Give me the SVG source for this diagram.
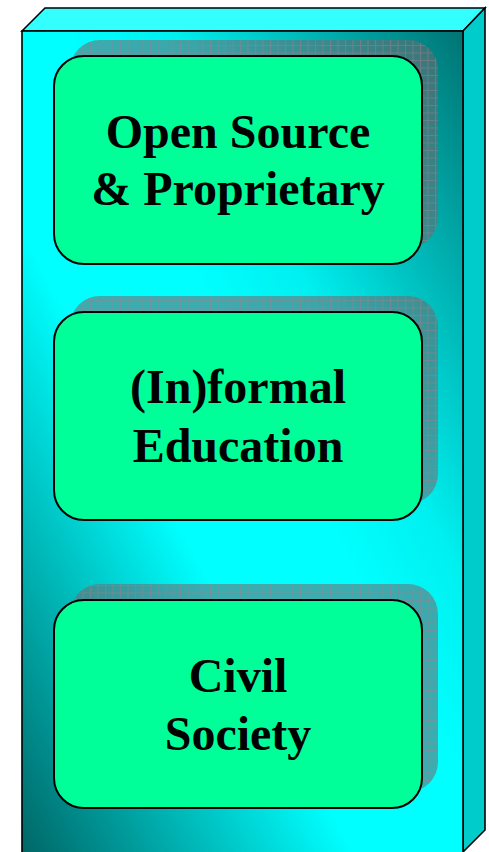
<svg xmlns="http://www.w3.org/2000/svg" width="489" height="852" viewBox="0 0 489 852">
<style>
.edge{stroke:#000;stroke-width:1.6;stroke-linejoin:miter}
.box{fill:#00FF99;stroke:#000;stroke-width:2}
.shadow{fill:url(#hatch)}
.lbl{font-family:"Liberation Serif","Times New Roman",serif;font-weight:bold;font-size:48px;fill:#000;text-anchor:middle}
</style>
<defs>
<linearGradient id="front" x1="1" y1="0" x2="0" y2="1">
<stop offset="0" stop-color="#007373"/>
<stop offset="0.33" stop-color="#00f0f0"/>
<stop offset="0.45" stop-color="#00ffff"/>
<stop offset="0.62" stop-color="#00ffff"/>
<stop offset="1" stop-color="#006464"/>
</linearGradient>
<pattern id="hatch" width="7.5" height="7.5" patternUnits="userSpaceOnUse">
<rect width="7.5" height="7.5" fill="#6a6a70" fill-opacity="0.55"/>
<path d="M0 0.5H7.5M0.5 0V7.5" stroke="#a07f86" stroke-width="1" stroke-opacity="0.5"/>
</pattern>
</defs>
<g id="pillar">
<path class="edge" d="M22 31L45 8L485 8L463 31Z" fill="#33FFFF"/>
<path class="edge" d="M463 31L485 8L485 830L463 852Z" fill="#00CCCC"/>
<rect class="edge" x="22" y="31" width="441" height="830" fill="url(#front)"/>
</g>
<g id="connectors"></g>
<g id="node-open-source">
<rect class="shadow" x="70" y="40" width="368" height="208" rx="30"/>
<rect class="box" x="54" y="56" width="368" height="208" rx="30"/>
<text class="lbl" x="238" y="148">Open Source</text>
<text class="lbl" x="238" y="205">&amp; Proprietary</text>
</g>
<g id="node-informal-education">
<rect class="shadow" x="70" y="296" width="368" height="208" rx="30"/>
<rect class="box" x="54" y="312" width="368" height="208" rx="30"/>
<text class="lbl" x="238" y="403">(In)formal</text>
<text class="lbl" x="238" y="462">Education</text>
</g>
<g id="node-civil-society">
<rect class="shadow" x="70" y="584" width="368" height="208" rx="30"/>
<rect class="box" x="54" y="600" width="368" height="208" rx="30"/>
<text class="lbl" x="238" y="692">Civil</text>
<text class="lbl" x="238" y="750">Society</text>
</g>
</svg>
